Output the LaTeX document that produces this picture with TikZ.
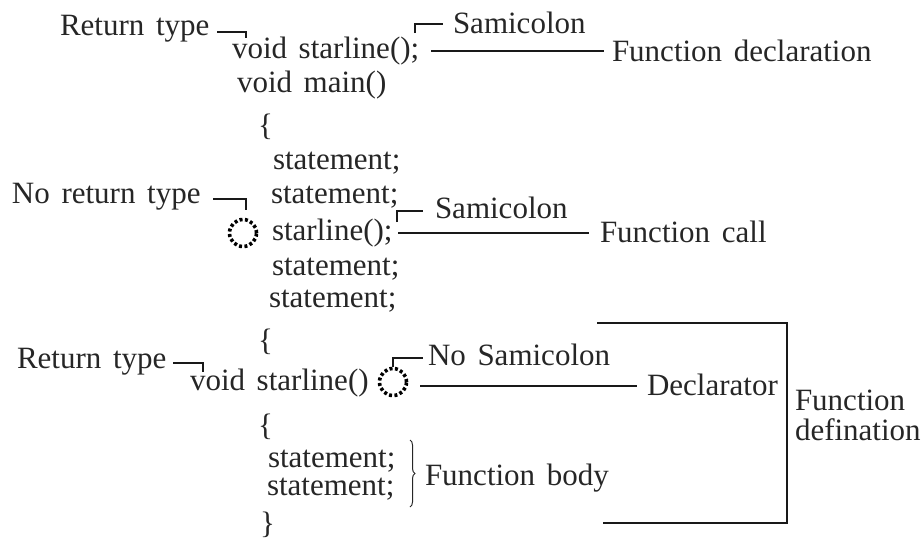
\documentclass[tikz,border=0pt]{standalone}
\usepackage{fontspec}
\setmainfont{Liberation Serif}[WordSpace=1.5]
\usetikzlibrary{decorations.pathreplacing}
\definecolor{txt}{gray}{0.15}
\begin{document}
\begin{tikzpicture}[x=1pt,y=-1pt,
  lbl/.style={anchor=base west, inner sep=0pt, outer sep=0pt, text=txt, font=\fontsize{31}{31}\selectfont},
  ln/.style={line width=1.8pt, draw=black!90},
  dotc/.style={circle, draw=black, dash pattern=on 3pt off 2.4pt, line width=3.6pt, minimum size=27pt, inner sep=0pt}]
\useasboundingbox (0,0) rectangle (922,541);
% --- declaration ---
\node[lbl] (rt1) at (60,35) {Return type};
\node[lbl] (decl) at (232,58) {void starline();};
\node[lbl] (sc1) at (453,33) {Samicolon};
\node[lbl] (fdecl) at (612,61) {Function declaration};
\node[lbl] (vm) at (237,92) {void main()};
\node[lbl] (br1) at (258,135) {\{};
\node[lbl] (st1) at (273,169) {statement;};
\node[lbl] (st2) at (271,203) {statement;};
\node[lbl] (nrt) at (12,203) {No return type};
% --- call ---
\node[lbl] (call) at (272,240) {starline();};
\node[dotc] (c1) at (243,233) {};
\node[lbl] (sc2) at (435,218) {Samicolon};
\node[lbl] (fcall) at (600,242) {Function call};
\node[lbl] (st3) at (272,275) {statement;};
\node[lbl] (st4) at (269,307) {statement;};
\node[lbl] (br2) at (258,350) {\{};
% --- definition ---
\node[lbl] (rt2) at (17,368) {Return type};
\node[lbl] (def) at (190,390) {void starline()};
\node[dotc] (c2) at (393,382) {};
\node[lbl] (nsc) at (428,365) {No Samicolon};
\node[lbl] (dcl) at (647,395) {Declarator};
\node[lbl, align=left] (fdef) at (795,440) {Function\\[-1pt]defination};
\node[lbl] (br3) at (258,435) {\{};
\node[lbl] (st5) at (268,467) {statement;};
\node[lbl] (st6) at (267,495) {statement;};
\node[lbl] (fbody) at (425,485) {Function body};
\node[lbl] (br4) at (260,533) {\}};
% --- connector corners ---
\coordinate (k1) at (246,32);
\coordinate (k2) at (415,24);
\coordinate (k3) at (246,199);
\coordinate (k4) at (397,211);
\coordinate (k5) at (203,363);
\coordinate (k6) at (393,358);
\coordinate (t1) at (597,323);
\coordinate (t2) at (787,323);
\coordinate (t3) at (787,523);
\coordinate (t4) at (603,523);
\coordinate (bt) at (410,440);
\coordinate (bb) at (410,507);
% --- connectors ---
\draw[ln] (k1 -| 217,0) -- (k1) -- ++(0,6);
\draw[ln] (415,33) -- (k2) -- ++(28,0);
\draw[ln] (431,51) -- ([xshift=-8pt]fdecl.west |- 0,51);
\draw[ln] (k3 -| 213,0) -- (k3) -- ++(0,11);
\draw[ln] (397,222) -- (k4) -- ++(26,0);
\draw[ln] (398,233) -- ([xshift=-11pt]fcall.west |- 0,233);
\draw[ln] (k5 -| 173,0) -- (k5) -- ++(0,9);
\draw[ln] (c2.north) -- (k6) -- ([xshift=-5pt]nsc.west |- k6);
\draw[ln] (420,386) -- ([xshift=-10pt]dcl.west |- 0,386);
\draw[ln] (t1) -- (t2) -- (t3) -- (t4);
\draw[line width=1pt, draw=txt, decorate, decoration={brace, amplitude=5pt}] (bt) -- (bb);
\end{tikzpicture}
\end{document}
